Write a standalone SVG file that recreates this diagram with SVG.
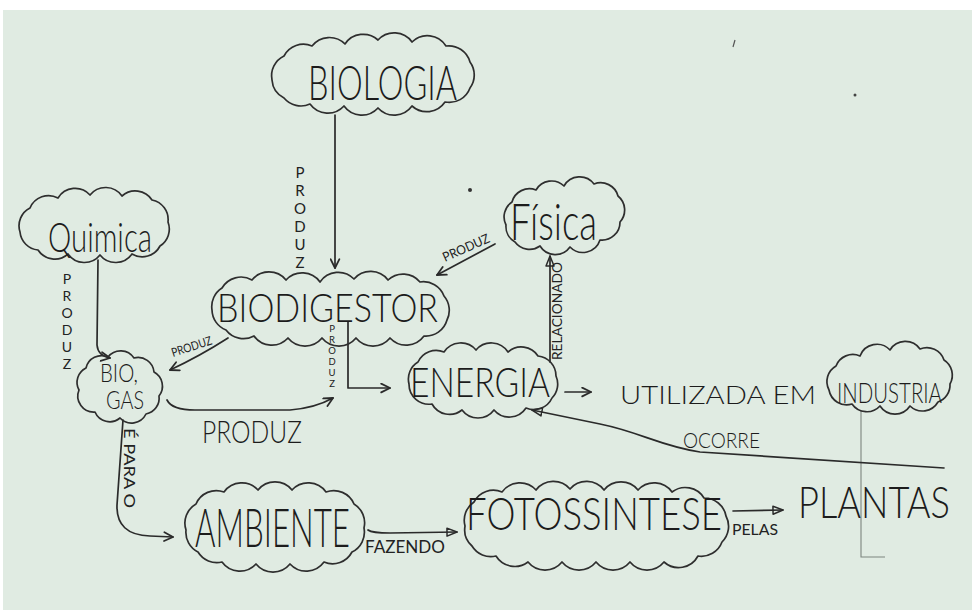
<svg xmlns="http://www.w3.org/2000/svg" width="972" height="610" viewBox="0 0 972 610">
  <style>
    .cloud { fill: none; stroke: #2e2e2e; stroke-width: 1.7; stroke-linejoin: round; }
    .link { fill: none; stroke: #2a2a2a; stroke-width: 1.7; stroke-linecap: round; stroke-linejoin: round; }
    .t { font-family: "Lato", "Liberation Sans", sans-serif; font-weight: 300; fill: #1c1c1c; }
    .lbl { font-family: "Lato", "Liberation Sans", sans-serif; font-weight: 400; fill: #222; }
    .stack { writing-mode: vertical-rl; text-orientation: upright; }
  </style>
  <defs>
    <marker id="chev" viewBox="0 0 10 10" refX="9" refY="5" markerWidth="11" markerHeight="11" markerUnits="userSpaceOnUse" orient="auto">
      <path d="M1,1 L9,5 L1,9" fill="none" stroke="#2a2a2a" stroke-width="1.6" stroke-linecap="round" stroke-linejoin="round"/>
    </marker>
    <marker id="tri" viewBox="0 0 12 10" refX="11" refY="5" markerWidth="12" markerHeight="10" markerUnits="userSpaceOnUse" orient="auto">
      <path d="M1,1 L11,5 L1,9 Z" fill="none" stroke="#2a2a2a" stroke-width="1.5" stroke-linejoin="round"/>
    </marker>
  </defs>

  <!-- paper -->
  <rect x="0" y="0" width="972" height="610" fill="#ffffff"/>
  <rect x="3" y="10" width="969" height="600" fill="#e0ebe2"/>
  <circle cx="470" cy="190" r="2" fill="#333"/>
  <circle cx="855" cy="95" r="1.5" fill="#444"/>
  <path d="M735,40 L733,47" stroke="#555" stroke-width="1.2"/>

  <!-- stray pen line below Industria -->
  <path d="M861,410 L861,557 L885,557" fill="none" stroke="#7d857f" stroke-width="1.1"/>

  <!-- connectors -->
  <g id="connectors">
    <path class="link" d="M335,115 L335,268" marker-end="url(#chev)"/>
    <path class="link" d="M98,260 L97,345 Q98,356 110,358" marker-end="url(#chev)"/>
    <path class="link" d="M228,338 Q200,356 170,370" marker-end="url(#chev)"/>
    <path class="link" d="M167,400 Q172,410 195,410 L290,410 Q315,408 333,398" marker-end="url(#chev)"/>
    <path class="link" d="M348,322 L348,388 L390,388" marker-end="url(#chev)"/>
    <path class="link" d="M495,244 L437,275" marker-end="url(#chev)"/>
    <path class="link" d="M550,362 L550,256" marker-end="url(#tri)"/>
    <path class="link" d="M565,392 L591,392" marker-end="url(#chev)"/>
    <path class="link" d="M944,468 C870,463 790,458 700,452 C660,446 640,432 600,424 L532,410" marker-end="url(#tri)"/>
    <path class="link" d="M123,420 L117,505 Q116,535 150,536 L173,537" marker-end="url(#chev)"/>
    <path class="link" d="M368,530 Q372,533 390,533 L457,532" marker-end="url(#tri)"/>
    <path class="link" d="M733,511 L783,510" marker-end="url(#tri)"/>

    <!-- link labels -->
    <text class="lbl stack" font-size="15" x="300" y="163">PRODUZ</text>
    <text class="lbl stack" font-size="14" x="67" y="270">PRODUZ</text>
    <text class="lbl stack" font-size="9.5" x="332" y="323">PRODUZ</text>
    <text class="lbl" font-size="12" transform="translate(173,357) rotate(-18)" textLength="42" lengthAdjust="spacingAndGlyphs">PRODUZ</text>
    <text class="lbl" font-size="13" transform="translate(445,262) rotate(-24)" textLength="50" lengthAdjust="spacingAndGlyphs">PRODUZ</text>
    <text class="lbl" font-size="13" transform="translate(562,360) rotate(-90)" textLength="98" lengthAdjust="spacingAndGlyphs">RELACIONADO</text>
    <text class="lbl" font-size="16" transform="translate(124,428) rotate(90)" textLength="80" lengthAdjust="spacingAndGlyphs">É PARA O</text>
    <text class="t" font-size="24.5" transform="translate(202,443) scale(1,1.3)" textLength="100" lengthAdjust="spacingAndGlyphs">PRODUZ</text>
    <text class="t" font-size="26" x="620" y="404" textLength="196" lengthAdjust="spacingAndGlyphs">UTILIZADA EM</text>
    <text class="t" font-size="19" transform="translate(683,448) scale(1,1.17)" textLength="77" lengthAdjust="spacingAndGlyphs">OCORRE</text>
    <text class="lbl" font-size="17" x="365" y="553" textLength="80" lengthAdjust="spacingAndGlyphs">FAZENDO</text>
    <text class="lbl" font-size="16" x="732" y="535" textLength="46" lengthAdjust="spacingAndGlyphs">PELAS</text>
  </g>

  <g id="biologia">
    <path class="cloud" d="M272,80 A22,22 0 0 1 284,56 A22,22 0 0 1 312,46 A22,22 0 0 1 345,44 A22,22 0 0 1 378,40 A22,22 0 0 1 412,42 A22,22 0 0 1 446,46 A22,22 0 0 1 470,62 A22,22 0 0 1 470,88 A22,22 0 0 1 445,102 A22,22 0 0 1 412,106 A22,22 0 0 1 378,108 A22,22 0 0 1 344,106 A22,22 0 0 1 310,104 A22,22 0 0 1 284,98 A22,22 0 0 1 272,80 Z"/>
    <text class="t" font-size="32" transform="translate(308,100) scale(1,1.45)" textLength="149" lengthAdjust="spacingAndGlyphs">BIOLOGIA</text>
  </g>

  <g id="quimica">
    <path class="cloud" d="M20,232 A20,20 0 0 1 30,208 A20,20 0 0 1 58,198 A20,20 0 0 1 90,195 A20,20 0 0 1 122,196 A20,20 0 0 1 152,200 A20,20 0 0 1 168,222 A20,20 0 0 1 160,246 A20,20 0 0 1 132,254 A20,20 0 0 1 100,255 A20,20 0 0 1 68,254 A20,20 0 0 1 38,250 A20,20 0 0 1 20,232 Z"/>
    <text class="t" font-size="28" transform="translate(48,252) scale(1,1.45)" textLength="104" lengthAdjust="spacingAndGlyphs">Quimica</text>
  </g>

  <g id="biodigestor">
    <path class="cloud" d="M212,310 A22,22 0 0 1 222,288 A22,22 0 0 1 252,280 A22,22 0 0 1 286,280 A22,22 0 0 1 320,282 A22,22 0 0 1 354,279 A22,22 0 0 1 388,280 A22,22 0 0 1 420,282 A22,22 0 0 1 444,296 A22,22 0 0 1 447,320 A22,22 0 0 1 424,336 A22,22 0 0 1 390,338 A22,22 0 0 1 356,338 A22,22 0 0 1 322,338 A22,22 0 0 1 288,338 A22,22 0 0 1 254,336 A22,22 0 0 1 226,330 A22,22 0 0 1 212,310 Z"/>
    <text class="t" font-size="34" transform="translate(217,322) scale(1,1.15)" textLength="221" lengthAdjust="spacingAndGlyphs">BIODIGESTOR</text>
  </g>

  <g id="fisica">
    <path class="cloud" d="M506,225 A18,18 0 0 1 512,202 A18,18 0 0 1 536,190 A18,18 0 0 1 564,186 A18,18 0 0 1 594,184 A18,18 0 0 1 618,196 A18,18 0 0 1 620,222 A18,18 0 0 1 600,240 A18,18 0 0 1 570,247 A18,18 0 0 1 540,246 A18,18 0 0 1 515,242 A18,18 0 0 1 506,225 Z"/>
    <text class="t" font-size="36" transform="translate(510,240) scale(1,1.4)" textLength="87" lengthAdjust="spacingAndGlyphs">Física</text>
  </g>

  <g id="biogas">
    <path class="cloud" d="M79,390 A16,16 0 0 1 86,368 A16,16 0 0 1 108,357 A16,16 0 0 1 134,358 A16,16 0 0 1 154,372 A16,16 0 0 1 159,396 A16,16 0 0 1 146,414 A16,16 0 0 1 120,418 A16,16 0 0 1 95,412 A16,16 0 0 1 79,390 Z"/>
    <text class="t" font-size="20" transform="translate(100,382) scale(1,1.25)" textLength="38" lengthAdjust="spacingAndGlyphs">BIO,</text>
    <text class="t" font-size="20" transform="translate(106,409) scale(1,1.25)" textLength="38" lengthAdjust="spacingAndGlyphs">GAS</text>
  </g>

  <g id="energia">
    <path class="cloud" d="M409,384 A20,20 0 0 1 418,362 A20,20 0 0 1 444,352 A20,20 0 0 1 476,350 A20,20 0 0 1 508,352 A20,20 0 0 1 538,356 A20,20 0 0 1 556,376 A20,20 0 0 1 552,398 A20,20 0 0 1 526,408 A20,20 0 0 1 494,410 A20,20 0 0 1 462,410 A20,20 0 0 1 432,404 A20,20 0 0 1 409,384 Z"/>
    <text class="t" font-size="33.5" transform="translate(410,397) scale(1,1.24)" textLength="140" lengthAdjust="spacingAndGlyphs">ENERGIA</text>
  </g>

  <g id="industria">
    <path class="cloud" d="M829,390 A18,18 0 0 1 836,366 A18,18 0 0 1 860,356 A18,18 0 0 1 890,350 A18,18 0 0 1 920,349 A18,18 0 0 1 944,360 A18,18 0 0 1 950,384 A18,18 0 0 1 938,402 A18,18 0 0 1 910,406 A18,18 0 0 1 880,406 A18,18 0 0 1 852,404 A18,18 0 0 1 829,390 Z"/>
    <text class="t" font-size="20.5" transform="translate(837,403) scale(1,1.36)" textLength="105" lengthAdjust="spacingAndGlyphs">INDUSTRIA</text>
  </g>

  <g id="ambiente">
    <path class="cloud" d="M186,530 A22,22 0 0 1 196,504 A22,22 0 0 1 224,492 A22,22 0 0 1 258,490 A22,22 0 0 1 292,490 A22,22 0 0 1 326,492 A22,22 0 0 1 354,504 A22,22 0 0 1 364,528 A22,22 0 0 1 352,552 A22,22 0 0 1 324,562 A22,22 0 0 1 290,564 A22,22 0 0 1 256,564 A22,22 0 0 1 222,562 A22,22 0 0 1 198,552 A22,22 0 0 1 186,530 Z"/>
    <text class="t" font-size="31.5" transform="translate(195,547) scale(1,1.7)" textLength="155" lengthAdjust="spacingAndGlyphs">AMBIENTE</text>
  </g>

  <g id="fotossintese">
    <path class="cloud" d="M465,526 A22,22 0 0 1 474,502 A22,22 0 0 1 502,492 A22,22 0 0 1 536,490 A22,22 0 0 1 570,489 A22,22 0 0 1 604,490 A22,22 0 0 1 638,490 A22,22 0 0 1 672,492 A22,22 0 0 1 704,498 A22,22 0 0 1 726,516 A22,22 0 0 1 722,542 A22,22 0 0 1 698,556 A22,22 0 0 1 664,562 A22,22 0 0 1 630,562 A22,22 0 0 1 596,562 A22,22 0 0 1 562,562 A22,22 0 0 1 528,562 A22,22 0 0 1 496,556 A22,22 0 0 1 472,546 A22,22 0 0 1 465,526 Z"/>
    <text class="t" font-size="37" transform="translate(466,530) scale(1,1.24)" textLength="256" lengthAdjust="spacingAndGlyphs">FOTOSSINTESE</text>
  </g>

  <g id="plantas">
    <text class="t" font-size="35.5" transform="translate(798,518) scale(1,1.21)" textLength="152" lengthAdjust="spacingAndGlyphs">PLANTAS</text>
  </g>
</svg>
